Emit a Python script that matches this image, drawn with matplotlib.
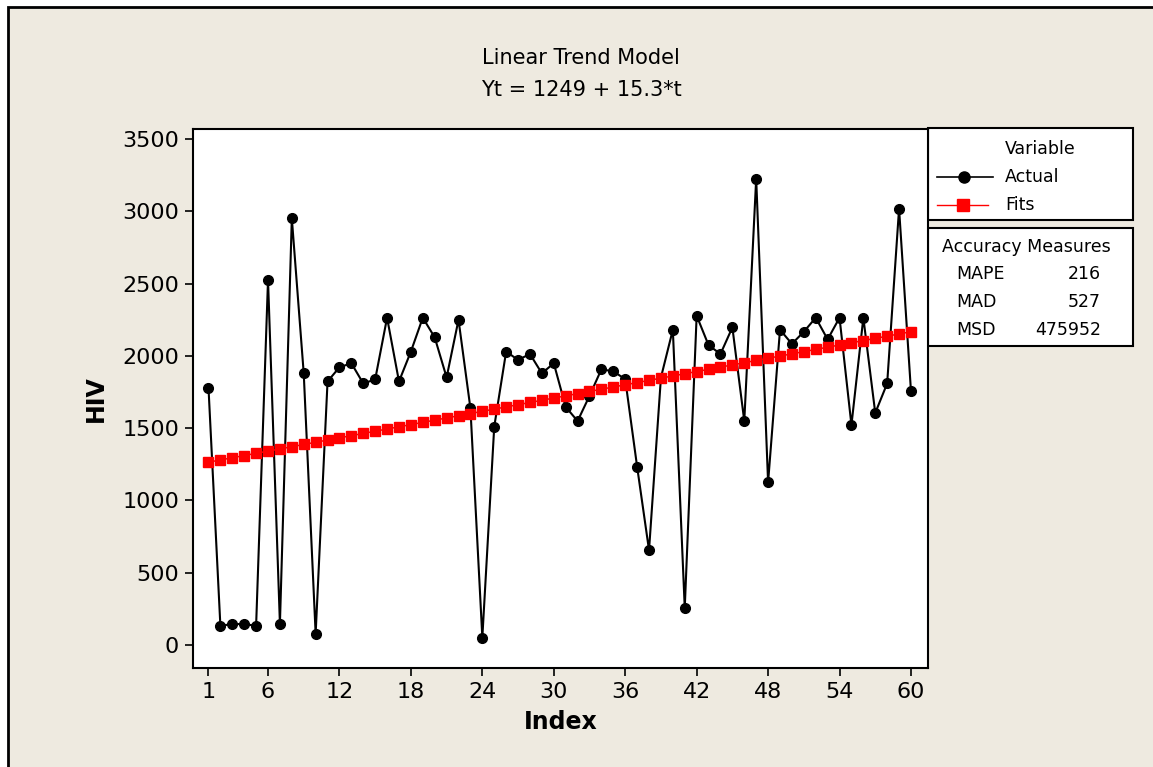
import matplotlib
matplotlib.use("Agg")
import matplotlib.pyplot as plt
from matplotlib.patches import Rectangle
from matplotlib.lines import Line2D

# ---------------- data ----------------
index = list(range(1, 61))
actual = [1781, 132, 144, 144, 132, 2525, 146, 2952, 1879, 77,
          1823, 1921, 1949, 1809, 1837, 2264, 1823, 2030, 2264, 2128,
          1851, 2250, 1637, 51, 1510, 2030, 1972, 2013, 1879, 1949,
          1647, 1549, 1723, 1907, 1893, 1839, 1233, 655, 1850, 2181,
          255, 2278, 2074, 2013, 2197, 1549, 3226, 1124, 2181, 2083,
          2167, 2264, 2114, 2264, 1521, 2264, 1605, 1809, 3019, 1756]
fits = [1264.3, 1279.6, 1294.9, 1310.2, 1325.5, 1340.8, 1356.1, 1371.4, 1386.7, 1402.0,
        1417.3, 1432.6, 1447.9, 1463.2, 1478.5, 1493.8, 1509.1, 1524.4, 1539.7, 1555.0,
        1570.3, 1585.6, 1600.9, 1616.2, 1631.5, 1646.8, 1662.1, 1677.4, 1692.7, 1708.0,
        1723.3, 1738.6, 1753.9, 1769.2, 1784.5, 1799.8, 1815.1, 1830.4, 1845.7, 1861.0,
        1876.3, 1891.6, 1906.9, 1922.2, 1937.5, 1952.8, 1968.1, 1983.4, 1998.7, 2014.0,
        2029.3, 2044.6, 2059.9, 2075.2, 2090.5, 2105.8, 2121.1, 2136.4, 2151.7, 2167.0]
x_ticks = [1, 6, 12, 18, 24, 30, 36, 42, 48, 54, 60]
y_ticks = [0, 500, 1000, 1500, 2000, 2500, 3000, 3500]
title_lines = ["Linear Trend Model", "Yt = 1249 + 15.3*t"]
series_names = ["Actual", "Fits"]
measure_names = ["MAPE", "MAD", "MSD"]
measure_values = ["216", "527", "475952"]

W, H = 1153, 767
BG = "#EEEAE0"
plt.rcParams["font.family"] = ["DejaVu Sans"]

fig = plt.figure(figsize=(W / 100, H / 100), dpi=100, facecolor="white")

# overlay in pixel coordinates
ov = fig.add_axes([0, 0, 1, 1], zorder=0)
ov.set_xlim(0, W)
ov.set_ylim(H, 0)
ov.axis("off")
ov.add_patch(Rectangle((8, 7), W + 20, H + 20, facecolor=BG, edgecolor="black", lw=2))

# titles
ov.text(581, 58, title_lines[0], ha="center", va="center", fontsize=15)
ov.text(581, 90, title_lines[1], ha="center", va="center", fontsize=15)

# main axes
L, R, T, B = 193, 928, 129, 668
ax = fig.add_axes([L / W, 1 - B / H, (R - L) / W, (B - T) / H], zorder=1)
ax.set_facecolor("white")
ax.plot(index, actual, color="black", lw=1.5, marker="o", ms=7,
        mfc="black", mec="black", zorder=2)
ax.plot(index, fits, color="red", lw=1.1, marker="s", ms=6.8,
        mfc="red", mec="red", zorder=3)
ax.set_xlim(-0.3, 61.43)
ax.set_ylim(-160, 3570)
ax.set_xticks(x_ticks)
ax.set_yticks(y_ticks)
ax.tick_params(direction="out", length=6, width=1.2, labelsize=16, pad=4, color="black")
for s in ax.spines.values():
    s.set_linewidth(1.5)
    s.set_color("black")
ax.set_xlabel("Index", fontsize=17, fontweight="bold", labelpad=6)
ax.set_ylabel("HIV", fontsize=17, fontweight="bold", labelpad=10)

# legend box
ov.add_patch(Rectangle((928, 128), 205, 92, facecolor="white", edgecolor="black", lw=1.5))
ov.text(1040, 149, "Variable", ha="center", va="center", fontsize=12.5)
ov.add_line(Line2D([937, 964, 993], [177, 177, 177], color="black", lw=1.2, marker="o",
                   markevery=[1], ms=8))
ov.add_line(Line2D([937, 963, 988], [205, 205, 205], color="red", lw=1.0, marker="s",
                   markevery=[1], ms=8))
ov.text(1005, 177, series_names[0], ha="left", va="center", fontsize=12.5)
ov.text(1005, 205, series_names[1], ha="left", va="center", fontsize=12.5)

# accuracy measures box
ov.add_patch(Rectangle((928, 228), 205, 118, facecolor="white", edgecolor="black", lw=1.5))
ov.text(942, 247, "Accuracy Measures", ha="left", va="center", fontsize=12.5)
for i, (n, v) in enumerate(zip(measure_names, measure_values)):
    yy = 274 + i * 28
    ov.text(956, yy, n, ha="left", va="center", fontsize=12.5)
    ov.text(1101, yy, v, ha="right", va="center", fontsize=12.5)

fig.savefig("out.png", dpi=100, facecolor=fig.get_facecolor())
